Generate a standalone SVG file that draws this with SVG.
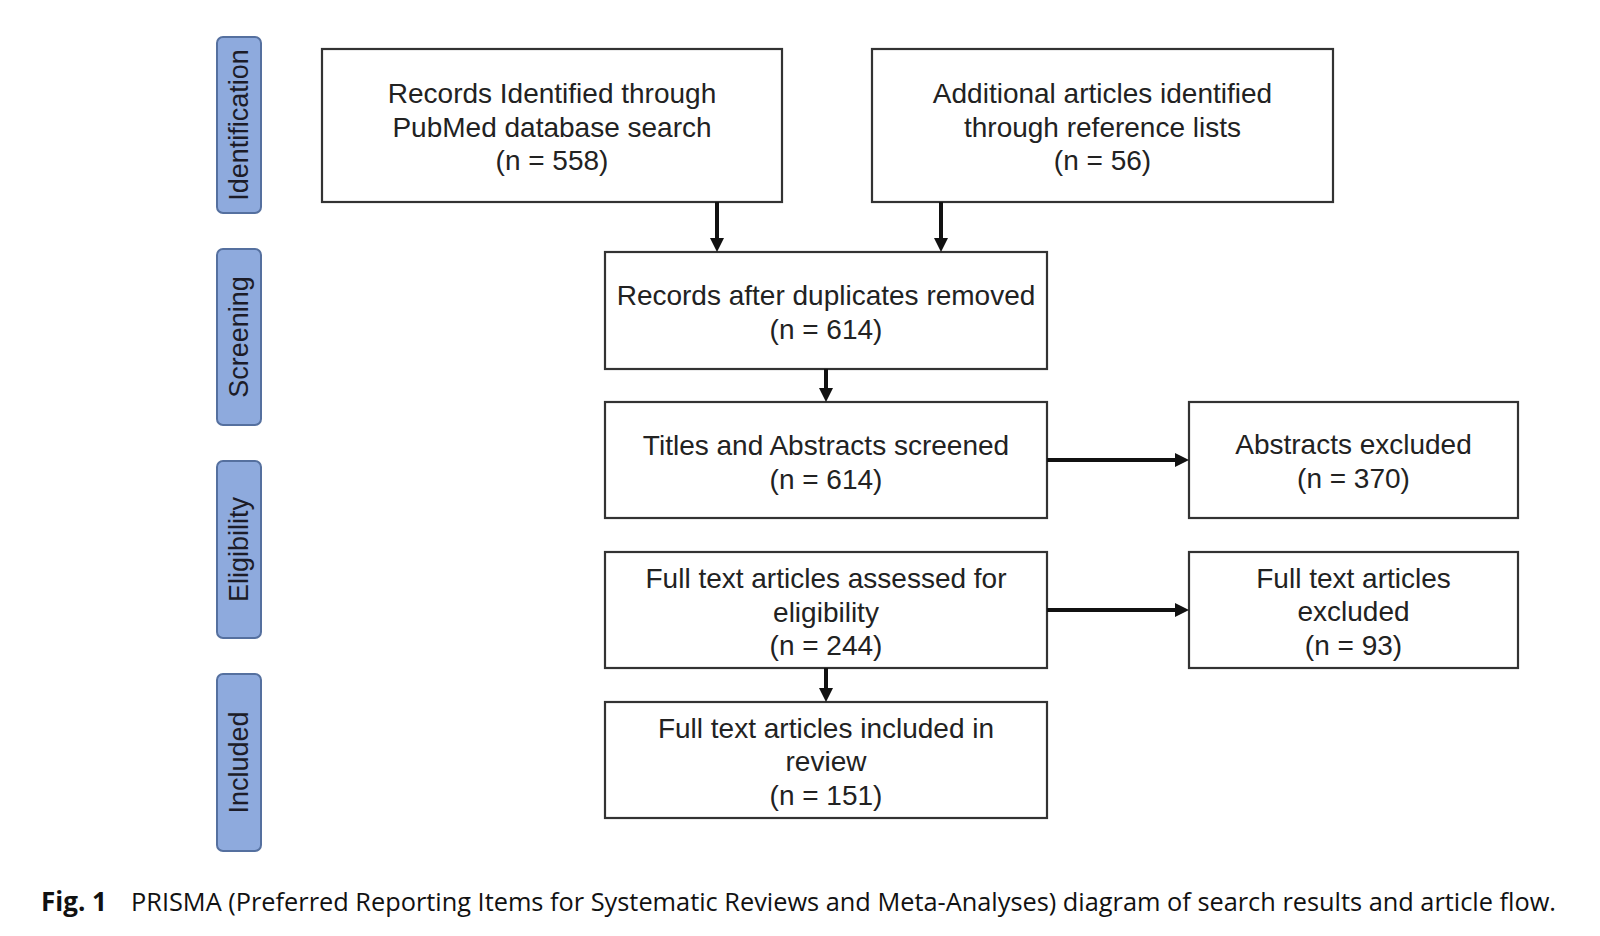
<svg xmlns="http://www.w3.org/2000/svg" width="1600" height="936" viewBox="0 0 1600 936">
<style>
.box{fill:#fff;stroke:#333;stroke-width:2.2}
.t{font-family:"Liberation Sans",Arial,sans-serif;font-size:28px;fill:#222;text-anchor:middle}
.stage{fill:#8eaadd;stroke:#55709f;stroke-width:2}
.st{font-family:"Liberation Sans",Arial,sans-serif;font-size:27px;fill:#1c1c28;text-anchor:middle}
.c{stroke:#111;stroke-width:4;fill:none}
.cap{font-family:"Open Sans","Noto Sans",sans-serif;font-size:26px;fill:#111}
</style>
<defs>
<marker id="ah" markerUnits="userSpaceOnUse" markerWidth="14" markerHeight="14" refX="2" refY="7" orient="auto">
<path d="M0,0 L14,7 L0,14 z" fill="#111"/>
</marker>
</defs>
<rect width="1600" height="936" fill="#fff"/>
<g id="stage-identification"><rect class="stage" x="217" y="37" width="44" height="176" rx="6"/><text class="st" transform="translate(248,125) rotate(-90)">Identification</text></g>
<g id="stage-screening"><rect class="stage" x="217" y="249" width="44" height="176" rx="6"/><text class="st" transform="translate(248,337) rotate(-90)">Screening</text></g>
<g id="stage-eligibility"><rect class="stage" x="217" y="461" width="44" height="177" rx="6"/><text class="st" transform="translate(248,549.5) rotate(-90)">Eligibility</text></g>
<g id="stage-included"><rect class="stage" x="217" y="674" width="44" height="177" rx="6"/><text class="st" transform="translate(248,762.5) rotate(-90)">Included</text></g>
<g id="n-pubmed"><rect class="box" x="322" y="49" width="460" height="153"/>
<text class="t" x="552" y="103">Records Identified through</text>
<text class="t" x="552" y="136.5">PubMed database search</text>
<text class="t" x="552" y="170">(n = 558)</text></g>
<g id="n-additional"><rect class="box" x="872" y="49" width="461" height="153"/>
<text class="t" x="1102.5" y="103">Additional articles identified</text>
<text class="t" x="1102.5" y="136.5">through reference lists</text>
<text class="t" x="1102.5" y="170">(n = 56)</text></g>
<g id="n-dedup"><rect class="box" x="605" y="252" width="442" height="117"/>
<text class="t" x="826" y="304.5">Records after duplicates removed</text>
<text class="t" x="826" y="338.5">(n = 614)</text></g>
<g id="n-screened"><rect class="box" x="605" y="402" width="442" height="116"/>
<text class="t" x="826" y="455">Titles and Abstracts screened</text>
<text class="t" x="826" y="489">(n = 614)</text></g>
<g id="n-abs-excluded"><rect class="box" x="1189" y="402" width="329" height="116"/>
<text class="t" x="1353.5" y="454">Abstracts excluded</text>
<text class="t" x="1353.5" y="488">(n = 370)</text></g>
<g id="n-assessed"><rect class="box" x="605" y="552" width="442" height="116"/>
<text class="t" x="826" y="588">Full text articles assessed for</text>
<text class="t" x="826" y="621.5">eligibility</text>
<text class="t" x="826" y="655">(n = 244)</text></g>
<g id="n-ft-excluded"><rect class="box" x="1189" y="552" width="329" height="116"/>
<text class="t" x="1353.5" y="587.5">Full text articles</text>
<text class="t" x="1353.5" y="621">excluded</text>
<text class="t" x="1353.5" y="654.5">(n = 93)</text></g>
<g id="n-included"><rect class="box" x="605" y="702" width="442" height="116"/>
<text class="t" x="826" y="737.5">Full text articles included in</text>
<text class="t" x="826" y="771">review</text>
<text class="t" x="826" y="804.5">(n = 151)</text></g>
<g id="connectors">
<line class="c" x1="717" y1="202" x2="717" y2="240" marker-end="url(#ah)"/>
<line class="c" x1="941" y1="202" x2="941" y2="240" marker-end="url(#ah)"/>
<line class="c" x1="826" y1="369" x2="826" y2="390" marker-end="url(#ah)"/>
<line class="c" x1="1047" y1="460" x2="1177" y2="460" marker-end="url(#ah)"/>
<line class="c" x1="1047" y1="610" x2="1177" y2="610" marker-end="url(#ah)"/>
<line class="c" x1="826" y1="668" x2="826" y2="690" marker-end="url(#ah)"/>
</g>
<g id="caption">
<text class="cap" x="41" y="911"><tspan font-weight="bold">Fig. 1</tspan></text>
<text class="cap" x="131" y="911" textLength="1425" lengthAdjust="spacingAndGlyphs">PRISMA (Preferred Reporting Items for Systematic Reviews and Meta-Analyses) diagram of search results and article flow.</text>
</g>
</svg>
